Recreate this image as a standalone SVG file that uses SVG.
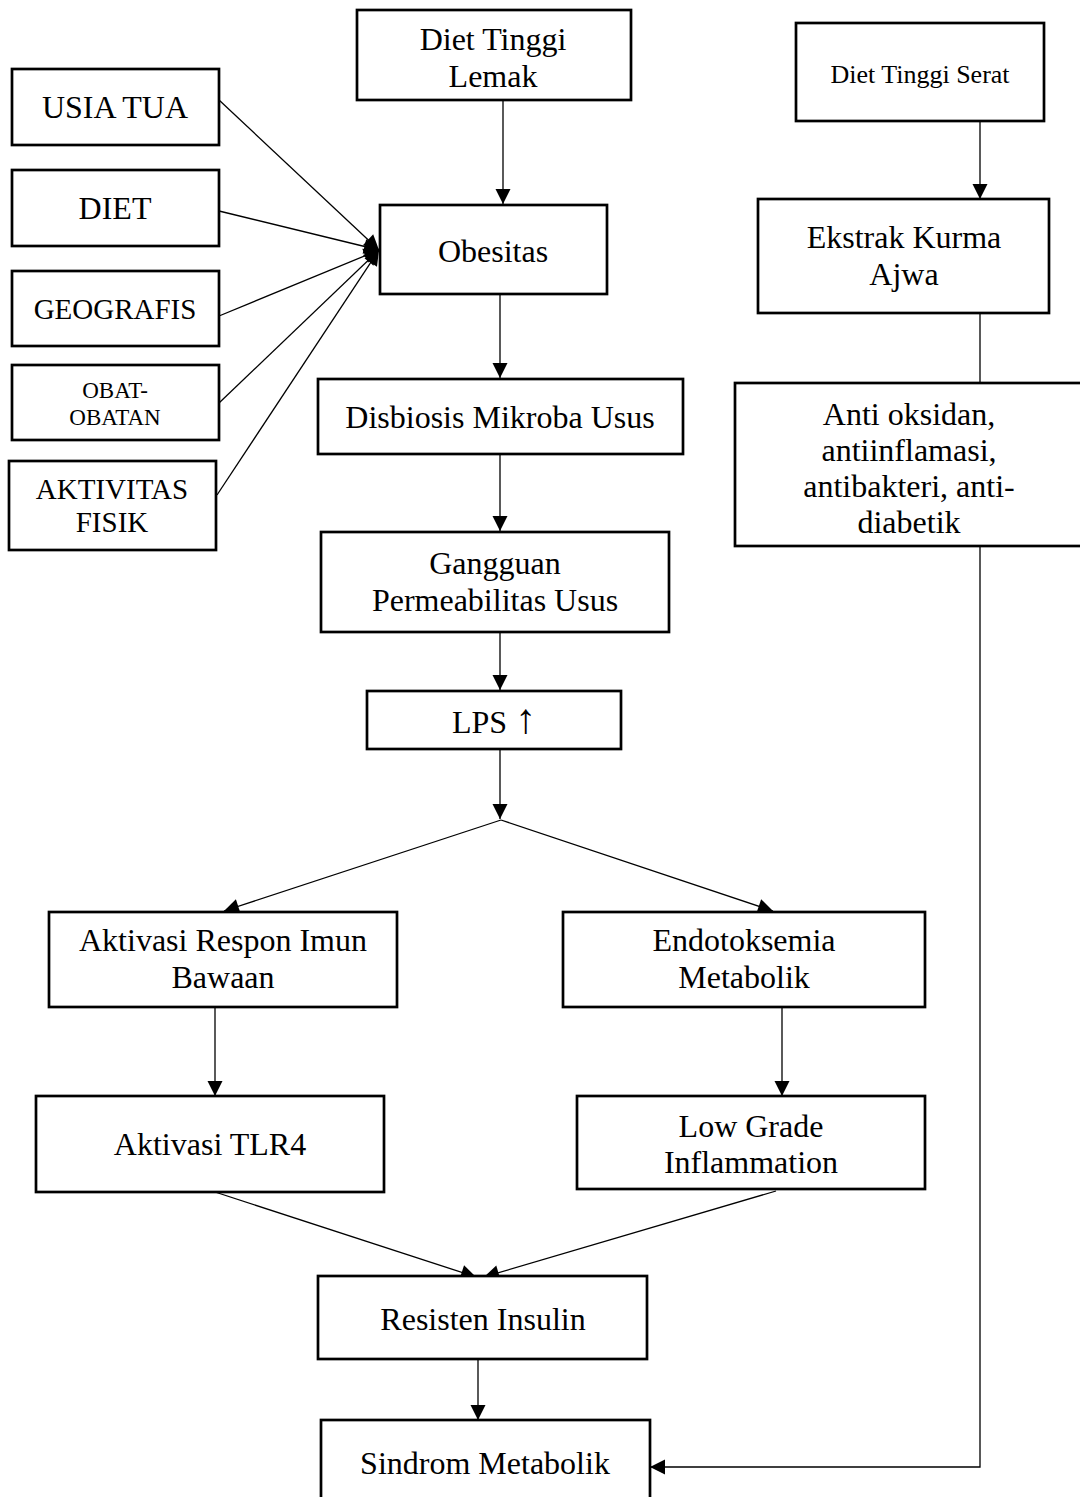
<svg xmlns="http://www.w3.org/2000/svg" width="1080" height="1497" viewBox="0 0 1080 1497">
<defs>
<marker id="ah" markerUnits="userSpaceOnUse" markerWidth="16" markerHeight="16" refX="15" refY="7.5" orient="auto" overflow="visible">
<path d="M0,0 L15,7.5 L0,15 z" fill="#000"/>
</marker>
<style>
.box{fill:#fff;stroke:#000;stroke-width:2.7}
.t{font-family:"Liberation Serif","Times New Roman",serif;font-size:32px;fill:#000;text-anchor:middle}
.s29{font-size:29px}
.s26{font-size:26px}
.s23{font-size:23px}
.c{fill:none;stroke:#000;stroke-width:1.3}
.a{marker-end:url(#ah)}
</style>
</defs>
<rect width="1080" height="1497" fill="#fff"/>

<g id="connectors">
<line class="c a" x1="219" y1="100" x2="379" y2="250"/>
<line class="c a" x1="219" y1="211" x2="379" y2="250"/>
<line class="c a" x1="219" y1="316" x2="379" y2="250"/>
<line class="c a" x1="219" y1="403" x2="379" y2="250"/>
<line class="c a" x1="217" y1="495" x2="379" y2="250"/>
<line class="c a" x1="503" y1="100" x2="503" y2="204"/>
<line class="c a" x1="500" y1="294" x2="500" y2="378"/>
<line class="c a" x1="500" y1="454" x2="500" y2="531"/>
<line class="c a" x1="500" y1="632" x2="500" y2="690"/>
<line class="c a" x1="500" y1="749" x2="500" y2="819"/>
<line class="c a" x1="501" y1="820" x2="224" y2="911"/>
<line class="c a" x1="501" y1="820" x2="773" y2="911"/>
<line class="c a" x1="215" y1="1007" x2="215" y2="1096"/>
<line class="c a" x1="782" y1="1007" x2="782" y2="1096"/>
<line class="c a" x1="215" y1="1192" x2="476" y2="1277"/>
<line class="c a" x1="776" y1="1191" x2="484" y2="1277"/>
<line class="c a" x1="478" y1="1359" x2="478" y2="1420"/>
<line class="c a" x1="980" y1="121" x2="980" y2="199"/>
<line class="c" x1="980" y1="313" x2="980" y2="383"/>
<polyline class="c a" points="980,546 980,1467 650,1467"/>
</g>

<g id="usia-tua">
<rect class="box" x="12" y="69" width="207" height="76"/>
<text class="t" x="115" y="118">USIA TUA</text>
</g>
<g id="diet">
<rect class="box" x="12" y="170" width="207" height="76"/>
<text class="t" x="115" y="219">DIET</text>
</g>
<g id="geografis">
<rect class="box" x="12" y="271" width="207" height="75"/>
<text class="t s29" x="115" y="319">GEOGRAFIS</text>
</g>
<g id="obat-obatan">
<rect class="box" x="12" y="365" width="207" height="75"/>
<text class="t s23" x="115" y="398">OBAT-</text>
<text class="t s23" x="115" y="425">OBATAN</text>
</g>
<g id="aktivitas-fisik">
<rect class="box" x="9" y="461" width="207" height="89"/>
<text class="t s29" x="112" y="499">AKTIVITAS</text>
<text class="t s29" x="112" y="532">FISIK</text>
</g>

<g id="diet-tinggi-lemak">
<rect class="box" x="357" y="10" width="274" height="90"/>
<text class="t" x="493" y="50">Diet Tinggi</text>
<text class="t" x="493" y="87">Lemak</text>
</g>
<g id="obesitas">
<rect class="box" x="380" y="205" width="227" height="89"/>
<text class="t" x="493" y="262">Obesitas</text>
</g>
<g id="disbiosis">
<rect class="box" x="318" y="379" width="365" height="75"/>
<text class="t" x="500" y="428">Disbiosis Mikroba Usus</text>
</g>
<g id="gangguan">
<rect class="box" x="321" y="532" width="348" height="100"/>
<text class="t" x="495" y="574">Gangguan</text>
<text class="t" x="495" y="611">Permeabilitas Usus</text>
</g>
<g id="lps">
<rect class="box" x="367" y="691" width="254" height="58"/>
<text class="t" x="494" y="733">LPS <tspan style="font-size:42px;font-family:'Liberation Serif','DejaVu Serif',serif">↑</tspan></text>
</g>
<g id="aktivasi-respon">
<rect class="box" x="49" y="912" width="348" height="95"/>
<text class="t" x="223" y="951">Aktivasi Respon Imun</text>
<text class="t" x="223" y="988">Bawaan</text>
</g>
<g id="endotoksemia">
<rect class="box" x="563" y="912" width="362" height="95"/>
<text class="t" x="744" y="951">Endotoksemia</text>
<text class="t" x="744" y="988">Metabolik</text>
</g>
<g id="aktivasi-tlr4">
<rect class="box" x="36" y="1096" width="348" height="96"/>
<text class="t" x="210" y="1155">Aktivasi TLR4</text>
</g>
<g id="low-grade">
<rect class="box" x="577" y="1096" width="348" height="93"/>
<text class="t" x="751" y="1137">Low Grade</text>
<text class="t" x="751" y="1173">Inflammation</text>
</g>
<g id="resisten-insulin">
<rect class="box" x="318" y="1276" width="329" height="83"/>
<text class="t" x="483" y="1330">Resisten Insulin</text>
</g>
<g id="sindrom-metabolik">
<rect class="box" x="321" y="1420" width="329" height="100"/>
<text class="t" x="485" y="1474">Sindrom Metabolik</text>
</g>

<g id="diet-tinggi-serat">
<rect class="box" x="796" y="23" width="248" height="98"/>
<text class="t s26" x="920" y="83">Diet Tinggi Serat</text>
</g>
<g id="ekstrak-kurma">
<rect class="box" x="758" y="199" width="291" height="114"/>
<text class="t" x="904" y="248">Ekstrak Kurma</text>
<text class="t" x="904" y="285">Ajwa</text>
</g>
<g id="anti-oksidan">
<rect class="box" x="735" y="383" width="350" height="163"/>
<text class="t" x="909" y="425">Anti oksidan,</text>
<text class="t" x="909" y="461">antiinflamasi,</text>
<text class="t" x="909" y="497">antibakteri, anti-</text>
<text class="t" x="909" y="533">diabetik</text>
</g>
</svg>
